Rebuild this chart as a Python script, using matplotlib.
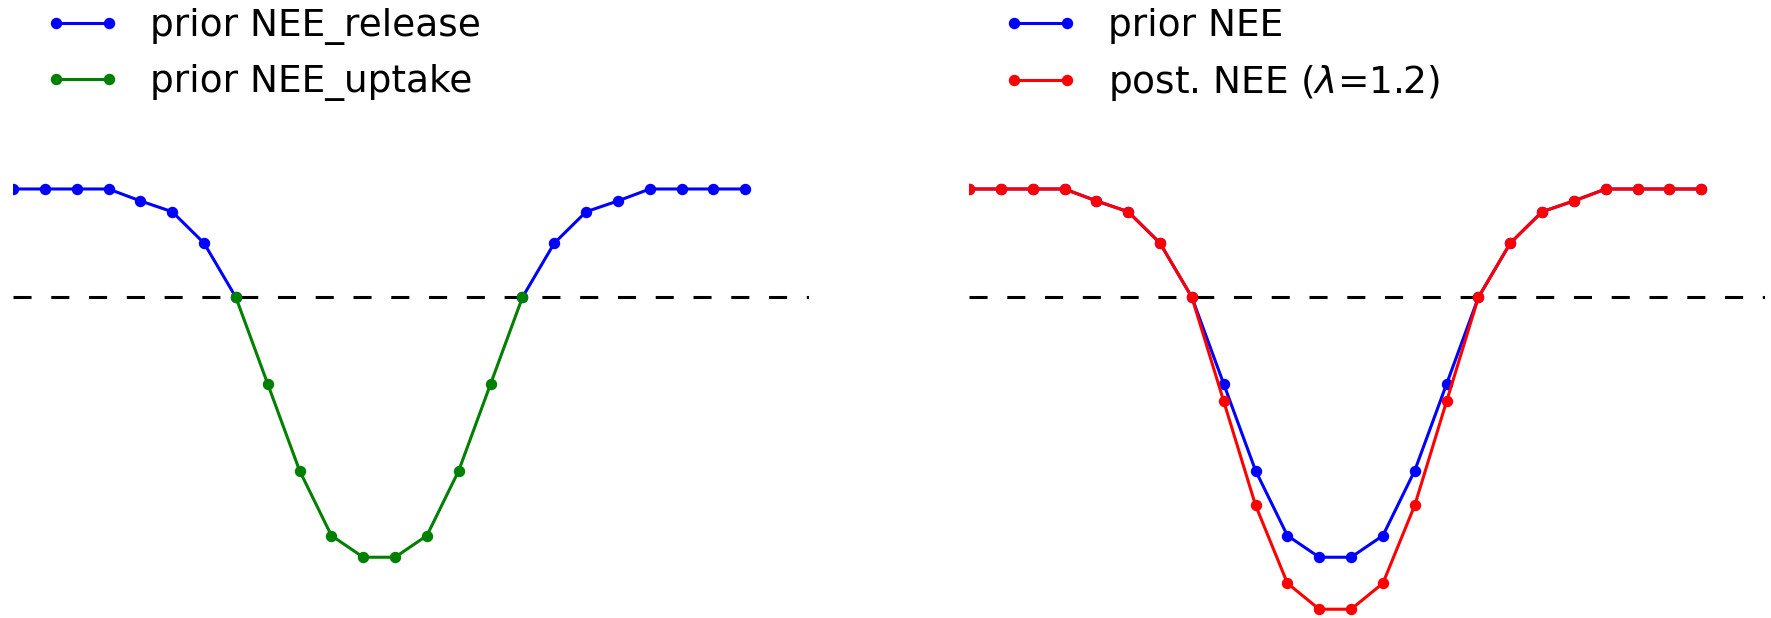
import numpy as np
import matplotlib
matplotlib.use("Agg")
import matplotlib.pyplot as plt

hours = list(range(24))
nee_prior = [1.0, 1.0, 1.0, 1.0, 0.89, 0.79, 0.5, 0.0,
             -0.8, -1.6, -2.2, -2.4, -2.4, -2.2, -1.6, -0.8,
             0.0, 0.5, 0.79, 0.89, 1.0, 1.0, 1.0, 1.0]
lam = 1.2

nee = np.array(nee_prior)
release = np.where(nee >= 0, nee, np.nan)
uptake = np.where(nee <= 0, nee, np.nan)
post = np.where(nee < 0, lam * nee, nee)

plt.rcParams['lines.scale_dashes'] = False
W, H = 1771, 618
fig = plt.figure(figsize=(W / 100, H / 100), dpi=100)

ax_w = 796 / W
ax_b = 0.0
ax_h = 438 / H
ax1 = fig.add_axes([13 / W, ax_b, ax_w, ax_h])
ax2 = fig.add_axes([969 / W, ax_b, ax_w, ax_h])

lw = 2.2
ms = 7.2
for ax in (ax1, ax2):
    ax.plot([0, 25], [0, 0], color='black', lw=lw, dashes=(13, 14.2))
    ax.set_xlim(0, 25)
    ax.set_ylim(-2.961, 1.083)
    ax.axis('off')

l1, = ax1.plot(hours, release, '-o', color='blue', lw=lw, ms=ms, label='prior NEE_release')
l2, = ax1.plot(hours, uptake, '-o', color='green', lw=lw, ms=ms, label='prior NEE_uptake')

l3, = ax2.plot(hours, nee, '-o', color='blue', lw=lw, ms=ms, label='prior NEE')
l4, = ax2.plot(hours, post, '-o', color='red', lw=lw, ms=ms, label=r'post. NEE ($\lambda$=1.2)')

fs = 27
common = dict(loc='upper left', bbox_transform=fig.transFigure, frameon=False,
              borderpad=0, borderaxespad=0, numpoints=2, fontsize=fs,
              handlelength=2.0, handletextpad=0.8, labelspacing=0.5)
fig.legend(handles=[l1, l2], bbox_to_anchor=(45 / W, 1 - 8 / H), **common)
fig.legend(handles=[l3, l4], bbox_to_anchor=(1003 / W, 1 - 8 / H), **common)

fig.savefig('out.png', dpi=100)
